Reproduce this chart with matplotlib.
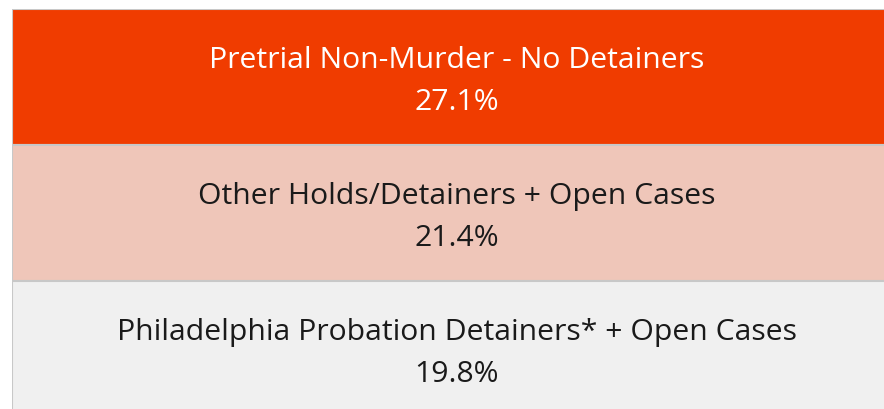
import matplotlib.pyplot as plt

labels = ["Pretrial Non-Murder - No Detainers",
          "Other Holds/Detainers + Open Cases",
          "Philadelphia Probation Detainers* + Open Cases"]
shares = [27.1, 21.4, 19.8]
colors = ["#F03C00", "#EFC6B9", "#F0F0F0"]
text_colors = ["white", "#1a1a1a", "#1a1a1a"]

fig = plt.figure(figsize=(8.84, 4.10), dpi=100)
ax = fig.add_axes([12 / 884, 0, 872 / 884, 400 / 410])

rows = list(range(len(labels)))
ax.barh(rows, [1] * len(rows), height=1, left=0, color=colors,
        edgecolor="#C8C8C8", linewidth=1.5)

for i, (lab, s) in enumerate(zip(labels, shares)):
    ax.text(0.5, i + 0.025, f"{lab}\n{s}%", ha="center", va="center",
            color=text_colors[i], fontsize=21.7, family="Open Sans",
            linespacing=1.62)

ax.set_xlim(0, 0.98)
ax.set_ylim(-0.5 + 400 / 136, -0.5)
ax.axis("off")

fig.savefig("out.png", dpi=100)
